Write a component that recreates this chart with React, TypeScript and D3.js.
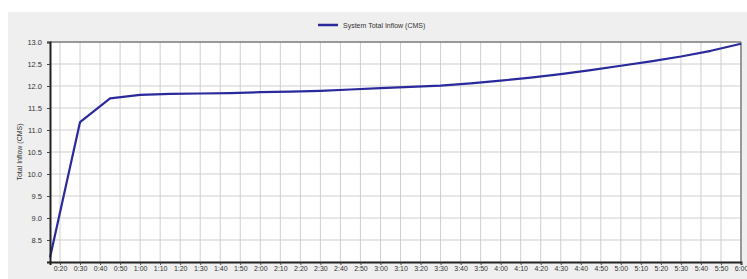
import { useEffect, useRef } from "react";
import * as d3 from "d3";

// minutes since 0:00, 15 minute steps
const times = [15, 30, 45, 60, 75, 90, 105, 120, 135, 150, 165, 180, 195, 210, 225, 240, 255, 270, 285, 300, 315, 330, 345, 360];
const inflow = [8.1, 11.18, 11.72, 11.8, 11.82, 11.83, 11.84, 11.86, 11.87, 11.89, 11.92, 11.95, 11.98, 12.01, 12.06, 12.12, 12.19, 12.27, 12.36, 12.46, 12.56, 12.67, 12.8, 12.96];

const yTicks = [8.5, 9.0, 9.5, 10.0, 10.5, 11.0, 11.5, 12.0, 12.5, 13.0];
const xTicks = d3.range(20, 361, 10);

const seriesName = "System Total Inflow (CMS)";
const yLabel = "Total Inflow (CMS)";

function fmtTime(m: number): string {
  const h = Math.floor(m / 60);
  const mm = m % 60;
  return `${h}:${mm < 10 ? "0" + mm : mm}`;
}

export default function App() {
  const ref = useRef<SVGSVGElement>(null);

  useEffect(() => {
    if (!ref.current) return;
    const svg = d3.select(ref.current);
    svg.selectAll("*").remove();

    const width = 747;
    const height = 279;
    const margin = { top: 42, right: 6, bottom: 17, left: 50 };
    const font = "Arial, 'Liberation Sans', sans-serif";

    // panel background
    svg.append("rect").attr("x", 0).attr("y", 0).attr("width", width).attr("height", height).attr("fill", "#ffffff");
    svg.append("rect").attr("x", 8).attr("y", 12).attr("width", width - 8).attr("height", height - 12).attr("fill", "#efefef");

    const x = d3.scaleLinear().domain([15, 360]).range([margin.left, width - margin.right]);
    const y = d3.scaleLinear().domain([8.0, 13.0]).range([height - margin.bottom, margin.top]);

    const x0 = x.range()[0], x1 = x.range()[1];
    const y0 = y.range()[0], y1 = y.range()[1];

    svg.append("rect").attr("x", x0).attr("y", y1).attr("width", x1 - x0).attr("height", y0 - y1).attr("fill", "#ffffff");

    // gridlines
    svg
      .append("g")
      .selectAll("line")
      .data(xTicks)
      .join("line")
      .attr("x1", (d) => x(d))
      .attr("x2", (d) => x(d))
      .attr("y1", y1)
      .attr("y2", y0)
      .attr("stroke", "#cfcfcf")
      .attr("stroke-width", 1);

    svg
      .append("g")
      .selectAll("line")
      .data(yTicks)
      .join("line")
      .attr("x1", x0)
      .attr("x2", x1)
      .attr("y1", (d) => y(d))
      .attr("y2", (d) => y(d))
      .attr("stroke", "#cfcfcf")
      .attr("stroke-width", 1);

    // frame
    svg.append("line").attr("x1", x0).attr("x2", x1).attr("y1", y1).attr("y2", y1).attr("stroke", "#808080").attr("stroke-width", 1.5);
    svg.append("line").attr("x1", x1).attr("x2", x1).attr("y1", y1).attr("y2", y0).attr("stroke", "#808080").attr("stroke-width", 1.5);

    // line
    const line = d3
      .line<number>()
      .x((_, i) => x(times[i]))
      .y((d) => y(d));

    svg
      .append("path")
      .datum(inflow)
      .attr("d", line)
      .attr("fill", "none")
      .attr("stroke", "#2a2a9c")
      .attr("stroke-width", 2.2)
      .attr("stroke-linejoin", "round");

    // axes
    svg
      .append("g")
      .attr("transform", `translate(0,${y0})`)
      .call(
        d3
          .axisBottom(x)
          .tickValues(xTicks)
          .tickSize(3)
          .tickFormat((d) => fmtTime(d as number))
      )
      .call((g) => g.select(".domain").attr("stroke", "#222").attr("stroke-width", 2))
      .call((g) => g.selectAll(".tick line").attr("stroke", "#444"))
      .call((g) =>
        g
          .selectAll(".tick text")
          .attr("fill", "#333")
          .attr("font-size", "7px")
          .attr("font-family", font)
          .attr("dy", "0.45em")
      );

    svg
      .append("g")
      .attr("transform", `translate(${x0},0)`)
      .call(
        d3
          .axisLeft(y)
          .tickValues(yTicks)
          .tickSize(3)
          .tickFormat((d) => (d as number).toFixed(1))
      )
      .call((g) => g.select(".domain").attr("stroke", "#222").attr("stroke-width", 2))
      .call((g) => g.selectAll(".tick line").attr("stroke", "#444"))
      .call((g) =>
        g
          .selectAll(".tick text")
          .attr("fill", "#333")
          .attr("font-size", "7.5px")
          .attr("font-family", font)
          .attr("x", -8)
      );

    // axis title
    svg
      .append("text")
      .attr("transform", `translate(22,${(y0 + y1) / 2}) rotate(-90)`)
      .attr("text-anchor", "middle")
      .attr("fill", "#333")
      .attr("font-size", "7px")
      .attr("font-family", font)
      .text(yLabel);

    // legend
    const lg = svg.append("g").attr("transform", "translate(318,25)");
    lg.append("line").attr("x1", 0).attr("x2", 20).attr("y1", 0).attr("y2", 0).attr("stroke", "#2a2a9c").attr("stroke-width", 2.5);
    lg.append("text")
      .attr("x", 25)
      .attr("y", 2.5)
      .attr("fill", "#333")
      .attr("font-size", "7px")
      .attr("font-family", font)
      .text(seriesName);
  }, []);

  return (
    <div style={{ position: "fixed", left: 0, top: 0 }}>
      <svg ref={ref} width={747} height={279} style={{ display: "block" }} />
    </div>
  );
}
